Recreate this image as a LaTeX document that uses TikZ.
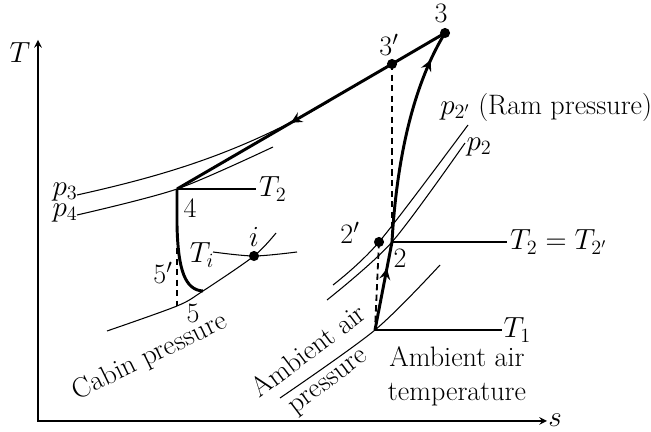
\documentclass[tikz,border=0pt]{standalone}
\usepackage{tikz}
\usetikzlibrary{arrows,decorations.markings,calc}
\tikzset{
  axisline/.style={line width=1.4pt},
  thickline/.style={line width=2.1pt},
  thinline/.style={line width=0.75pt},
  dashline/.style={line width=1.3pt, dash pattern=on 4.5pt off 3pt},
  midarrow/.style={postaction={decorate, decoration={markings,
      mark=at position #1 with {\arrow[scale=1.1]{stealth}}}}},
}

\begin{document}
\begin{tikzpicture}[>=stealth, font=\fontsize{20}{24}\selectfont]
\useasboundingbox (-0.95,-0.275) rectangle (15.325,10.525);
% Axes
\coordinate (O) at (0,0);
\coordinate (Ttop) at (0,9.525);
\coordinate (send) at (12.725,0);
\draw[axisline, <->] (Ttop) -- (O) -- (send);
\node (Tlab) at (-0.45,9.2) {$T$};
\node[inner sep=1pt] (slab) at (12.925,0.02) {$s$};

% States
\coordinate (s1) at (8.425,2.275);
\coordinate (s2) at (8.85,4.475);
\coordinate (s2p) at (8.525,4.475);
\coordinate (s3) at (10.175,9.7);
\coordinate (s3p) at (8.85,8.925);
\coordinate (s4) at (3.475,5.8);
\coordinate (s5) at (3.475,2.875);
\coordinate (s5p) at (3.475,4.325);
\coordinate (s5e) at (4.125,3.25);
\coordinate (si) at (5.4,4.125);
\coordinate (t1end) at (11.6,2.275);
\coordinate (t2end) at (11.725,4.475);
\coordinate (t4end) at (5.45,5.8);

% Isobars and isotherm
\draw[thinline] (0.975,5.65) .. controls (3.225,6.15) and (5.05,6.7) .. (7.3,8.0);
\draw[thinline] plot[smooth] coordinates {(0.975,5.15) (3.475,5.8) (5.875,6.85)};
\draw[thinline] plot[smooth] coordinates {(1.725,2.25) (3.475,2.875) (4.125,3.25) (5.4,4.125) (5.95,4.7)};
\draw[thinline] plot[smooth] coordinates {(4.375,4.225) (5.4,4.125) (6.475,4.225)};
\draw[thinline] plot[smooth] coordinates {(6.05,0.575) (8.425,2.275) (10.05,3.9)};
\draw[thinline] plot[smooth] coordinates {(7.375,3.4) (8.525,4.475) (10.75,7.4)};
\draw[thinline] plot[smooth] coordinates {(7.225,3.025) (8.85,4.475) (10.675,6.95)};

% Dashed lines
\draw[dashline] (s3p) -- (s2);
\draw[dashline] (s2p) -- (s1);
\draw[dashline] (s5p) -- (s5);

% Process lines
\draw[thickline, midarrow=0.7] (s1) -- (s2);
\draw[thickline, midarrow=0.86] (s2) .. controls (8.95,6.275) and (9.3,8.275) .. (s3);
\draw[thickline] (s3) -- (s3p);
\draw[thickline, midarrow=0.47] (s3p) -- (s4);
\draw[thickline] (s4) -- (3.475,4.9) .. controls (3.5,3.775) and (3.675,3.275) .. (s5e);
\draw[thickline] (s1) -- (t1end);
\draw[thickline] (s2) -- (t2end);
\draw[thickline] (s4) -- (t4end);
\foreach \p in {s3,s3p,s2p,si}
  \fill (\p) circle (3.6pt);

% Labels
\node (l3) at (10.075,10.2) {3};
\node (l3p) at (8.775,9.4) {3$'$};
\node (l4) at (3.8,5.325) {4};
\node (l2p) at (7.8,4.7) {2$'$};
\node (l2) at (9.05,4.075) {2};
\node (l5p) at (3.125,3.7) {5$'$};
\node (l5) at (3.875,2.7) {5};
\node (li) at (5.4,4.6) {$i$};
\node (lTi) at (4.1,4.15) {$T_i$};
\node (lp3) at (0.675,5.725) {$p_3$};
\node (lp4) at (0.675,5.2) {$p_4$};
\node[anchor=west, inner sep=2pt] (lT4) at (t4end) {$T_2$};
\node[anchor=west, inner sep=2pt] (lT2) at (t2end) {$T_2 = T_{2'}$};
\node[anchor=west, inner sep=1pt] (lT1) at (t1end) {$T_1$};
\node[anchor=west, inner sep=0pt] (lp2p) at (10.05,7.85) {$p_{2'}$ (Ram pressure)};
\node (lp2) at (11.025,6.85) {$p_2$};
\node[align=center] (lamb) at (10.475,1.125) {Ambient air\\temperature};
\node[rotate=26, inner sep=1pt] (lcabin) at (2.8,1.6) {Cabin pressure};
\node[rotate=37, inner sep=1pt] (lambp1) at (6.75,1.77) {Ambient air};
\node[rotate=37, inner sep=1pt] (lambp2) at (7.3,0.93) {pressure};
\end{tikzpicture}
\end{document}
